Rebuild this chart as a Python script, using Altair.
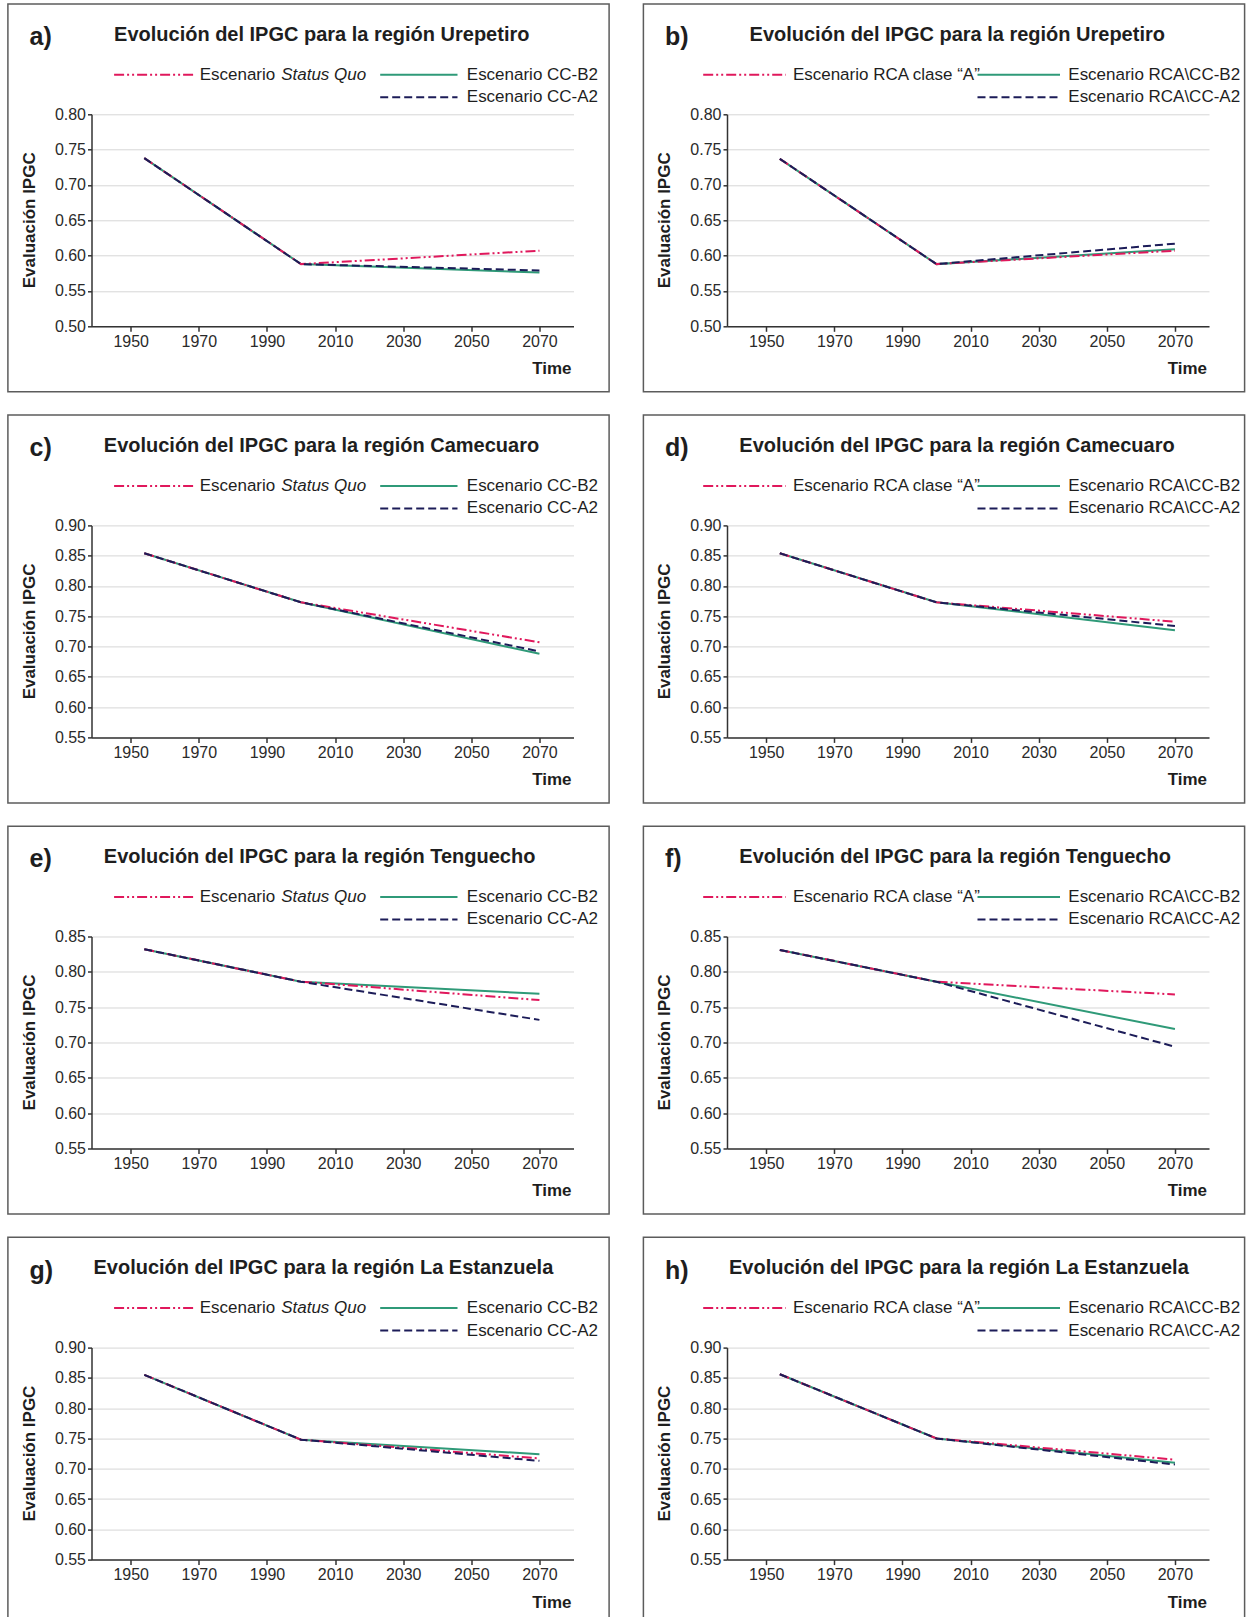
import altair as alt
import pandas as pd

# ---------------- data ----------------
years = [1954, 2000, 2070]
x_ticks = [1950, 1970, 1990, 2010, 2030, 2050, 2070]

# Urepetiro (a: Status Quo / CC-B2 / CC-A2 ; b: RCA "A" / RCA\CC-B2 / RCA\CC-A2)
a_sq = [0.738, 0.588, 0.607]
a_b2 = [0.738, 0.588, 0.576]
a_a2 = [0.738, 0.588, 0.579]
b_a = [0.737, 0.588, 0.607]
b_b2 = [0.737, 0.588, 0.609]
b_a2 = [0.737, 0.588, 0.617]
# Camecuaro
c_sq = [0.854, 0.773, 0.707]
c_b2 = [0.854, 0.773, 0.688]
c_a2 = [0.854, 0.773, 0.692]
d_a = [0.854, 0.773, 0.741]
d_b2 = [0.854, 0.773, 0.727]
d_a2 = [0.854, 0.773, 0.734]
# Tenguecho
e_sq = [0.832, 0.786, 0.760]
e_b2 = [0.832, 0.786, 0.769]
e_a2 = [0.832, 0.786, 0.732]
f_a = [0.831, 0.786, 0.768]
f_b2 = [0.831, 0.786, 0.719]
f_a2 = [0.831, 0.786, 0.694]
# La Estanzuela
g_sq = [0.855, 0.748, 0.717]
g_b2 = [0.855, 0.748, 0.724]
g_a2 = [0.855, 0.748, 0.713]
h_a = [0.856, 0.750, 0.715]
h_b2 = [0.856, 0.750, 0.710]
h_a2 = [0.856, 0.750, 0.707]

ticks_050_080 = [0.50, 0.55, 0.60, 0.65, 0.70, 0.75, 0.80]
ticks_055_090 = [0.55, 0.60, 0.65, 0.70, 0.75, 0.80, 0.85, 0.90]
ticks_055_085 = [0.55, 0.60, 0.65, 0.70, 0.75, 0.80, 0.85]

t_ure = "Evolución del IPGC para la región Urepetiro"
t_cam_c = "Evolución del IPGC para la región  Camecuaro"
t_cam_d = "Evolución del IPGC para la región Camecuaro"
t_ten = "Evolución del IPGC para la región Tenguecho"
t_est = "Evolución del IPGC para la región La Estanzuela"

# ---------------- style ----------------
FONT = "Liberation Sans"
PINK = "#e0185c"
GREEN = "#2f9a78"
NAVY = "#1c1c58"
DASH_DOTDOT = [10, 3, 2, 3, 2, 3]
DASH = [8, 4]
W, H = 482, 212

one = pd.DataFrame({"k": [0]})


def txt(s, x, y, size=17, weight="normal", style="normal", align="left", angle=0, color="#1e1e1e"):
    kw = dict(align=align, baseline="middle", font=FONT, fontSize=size,
              fontWeight=weight, fontStyle=style, color=color)
    if angle:
        kw["angle"] = angle
    return alt.Chart(one).mark_text(**kw).encode(
        x=alt.value(x), y=alt.value(y), text=alt.value(s))


def rule(x1, x2, y, color, dash=None):
    kw = dict(color=color, strokeWidth=2)
    if dash:
        kw["strokeDash"] = dash
    return alt.Chart(one).mark_rule(**kw).encode(
        x=alt.value(x1), x2=alt.value(x2), y=alt.value(y))


def panel(letter, title, title_x, s1, s2, s3, ydom, yticks, right):
    names = ["s1", "s2", "s3"]
    df = pd.DataFrame({
        "year": years * 3,
        "value": s1 + s2 + s3,
        "series": [n for n in names for _ in years],
    })
    X = alt.X("year:Q",
              scale=alt.Scale(domain=[1938.5, 2080], nice=False, zero=False),
              axis=alt.Axis(values=x_ticks, format="d", title=None, grid=False,
                            tickSize=5, labelPadding=2))
    Y = alt.Y("value:Q",
              scale=alt.Scale(domain=ydom, nice=False, zero=False),
              axis=alt.Axis(values=yticks, format=".2f", title=None, grid=True,
                            tickSize=4, labelPadding=2))
    styles = {"s1": (PINK, DASH_DOTDOT), "s2": (GREEN, None), "s3": (NAVY, DASH)}
    lines = []
    for n in ["s2", "s1", "s3"]:
        color, dash = styles[n]
        kw = dict(color=color, strokeWidth=2)
        if dash:
            kw["strokeDash"] = dash
        lines.append(alt.Chart(df).transform_filter(alt.datum.series == n)
                     .mark_line(**kw).encode(x=X, y=Y))

    border = alt.Chart(one).mark_rect(filled=False, stroke="#5c5c5c", strokeWidth=1.5).encode(
        x=alt.value(-83.6), x2=alt.value(517.6), y=alt.value(-110.3), y2=alt.value(277.5))

    deco = [
        txt(letter, -62, -77, size=25, weight="bold"),
        txt(title, title_x, -79.4, size=20, weight="bold"),
        txt("Evaluación  IPGC", -62, H / 2, size=17, weight="bold", align="center", angle=270),
        txt("Time", 480, 255, size=17, weight="bold", align="right"),
    ]
    r1, r2 = -39.5, -17
    if not right:
        deco += [
            rule(22.6, 102, r1, PINK, DASH_DOTDOT),
            txt("Escenario", 108.2, r1),
            txt("Status Quo", 189.7, r1, style="italic"),
            rule(288.7, 366, r1, GREEN),
            txt("Escenario CC-B2", 375.3, r1),
            rule(288.7, 366, r2, NAVY, DASH),
            txt("Escenario CC-A2", 375.3, r2),
        ]
    else:
        deco += [
            rule(-23.8, 58.7, r1, PINK, DASH_DOTDOT),
            txt("Escenario RCA clase “A”", 65.9, r1),
            rule(250.5, 333, r1, GREEN),
            txt("Escenario RCA\\CC-B2", 341.3, r1),
            rule(250.5, 333, r2, NAVY, DASH),
            txt("Escenario RCA\\CC-A2", 341.3, r2),
        ]
    return alt.layer(border, *lines, *deco).properties(width=W, height=H)


pa = panel("a)", t_ure, 22.6, a_sq, a_b2, a_a2, [0.50, 0.80], ticks_050_080, False)
pb = panel("b)", t_ure, 22.6, b_a, b_b2, b_a2, [0.50, 0.80], ticks_050_080, True)
pc = panel("c)", t_cam_c, 12.3, c_sq, c_b2, c_a2, [0.55, 0.90], ticks_055_090, False)
pd_ = panel("d)", t_cam_d, 12.3, d_a, d_b2, d_a2, [0.55, 0.90], ticks_055_090, True)
pe = panel("e)", t_ten, 12.3, e_sq, e_b2, e_a2, [0.55, 0.85], ticks_055_085, False)
pf = panel("f)", t_ten, 12.3, f_a, f_b2, f_a2, [0.55, 0.85], ticks_055_085, True)
pg = panel("g)", t_est, 2.0, g_sq, g_b2, g_a2, [0.55, 0.90], ticks_055_090, False)
ph = panel("h)", t_est, 2.0, h_a, h_b2, h_a2, [0.55, 0.90], ticks_055_090, True)

rows = [alt.hconcat(l, r, spacing=31.5) for l, r in [(pa, pb), (pc, pd_), (pe, pf), (pg, ph)]]

chart = (
    alt.vconcat(*rows, spacing=20.1)
    .properties(padding={"left": 6.5, "top": 2.3, "right": 0, "bottom": 0},
                background="white")
    .configure_view(stroke=None)
    .configure_axis(
        labelFont=FONT, labelFontSize=16, labelColor="#2a2a2a",
        domainColor="#333333", domainWidth=1.5,
        tickColor="#333333", tickWidth=1.5,
        gridColor="#d6d6d6", gridWidth=1,
    )
)

chart.save("out.html", embed_options={"renderer": "svg", "actions": False})
